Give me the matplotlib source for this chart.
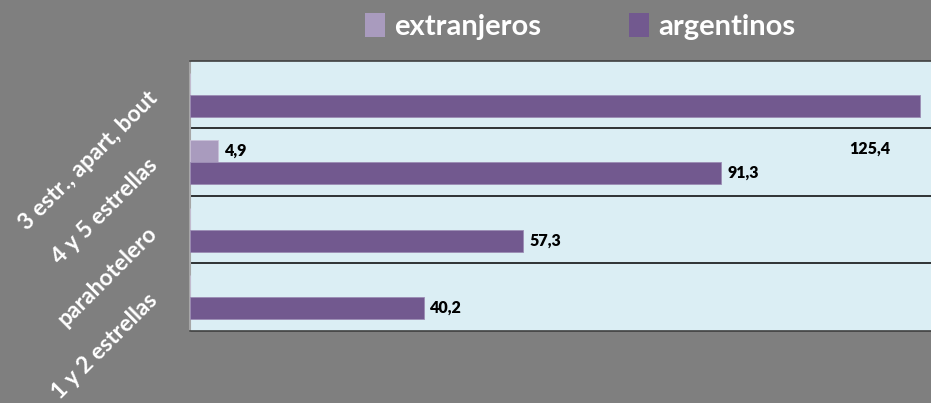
import numpy as np
import matplotlib
matplotlib.use("Agg")
import matplotlib.pyplot as plt
from matplotlib.patches import Patch

# data (top to bottom as drawn)
categories = ["3 estr., apart, bout", "4 y 5 estrellas", "parahotelero", "1 y 2 estrellas"]
extranjeros = [0, 4.9, 0, 0]
argentinos = [125.4, 91.3, 57.3, 40.2]

c_ext = "#a99bbe"
c_arg = "#72598f"
bg = "#7f7f7f"
plot_bg = "#dbeef4"

plt.rcParams['font.family'] = ['Lato', 'DejaVu Sans']

fig = plt.figure(figsize=(9.31, 4.03), dpi=100, facecolor=bg)
ax = fig.add_axes([0.204, 0.179, 0.80, 0.670])
ax.set_facecolor(plot_bg)

y = np.arange(len(categories))
h = 0.325
ax.barh(y - h / 2, extranjeros, height=h, color=c_ext, edgecolor="#c9c0d8", linewidth=0.6, zorder=3)
ax.barh(y + h / 2, argentinos, height=h, color=c_arg, edgecolor="#9c8db5", linewidth=0.6, zorder=3)

ax.set_xlim(0, 127.3 / 0.9948)
ax.set_ylim(len(categories) - 0.5, -0.5)

# category separators
for b in np.arange(0.5, len(categories) - 0.5, 1):
    ax.axhline(b, color="black", linewidth=1.1, zorder=2)

# value labels
def fmt(v):
    return ("%.1f" % v).replace(".", ",")

for i, v in enumerate(extranjeros):
    if v > 0:
        ax.text(v + 1.1, i - h / 2, fmt(v), va="center", ha="left",
                fontsize=11.5, fontweight="heavy", color="black", zorder=4)
for i, v in enumerate(argentinos):
    if i == 0:
        # label of the top bar sits out of place, in the next band
        ax.text(113.2, 1 - h / 2 - 0.04, fmt(v), va="center", ha="left",
                fontsize=11.5, fontweight="heavy", color="black", zorder=4)
    else:
        ax.text(v + 1.1, i + h / 2, fmt(v), va="center", ha="left",
                fontsize=11.5, fontweight="heavy", color="black", zorder=4)

ax.set_xticks([])
ax.set_yticks(y)
ax.set_yticklabels(categories, rotation=45, rotation_mode="anchor", ha="right", va="center",
                   fontsize=16.5, fontweight="bold", color="white")
ax.tick_params(axis="y", length=0, pad=26)

for s in ["top", "bottom"]:
    ax.spines[s].set_color("#404040")
    ax.spines[s].set_linewidth(1.2)
ax.spines["left"].set_color("#a6a6a6")
ax.spines["left"].set_linewidth(1.5)
ax.spines["right"].set_visible(False)

handles = [Patch(facecolor=c_ext, label="extranjeros"), Patch(facecolor=c_arg, label="argentinos")]
fig.legend(handles=handles, loc="center", bbox_to_anchor=(0.623, 0.935), ncol=2, frameon=False,
           prop={"size": 21, "weight": "bold"}, labelcolor="white",
           handlelength=0.7, handleheight=0.9, handletextpad=0.3, columnspacing=3.0)

fig.savefig("out.png", dpi=100, facecolor=bg)
